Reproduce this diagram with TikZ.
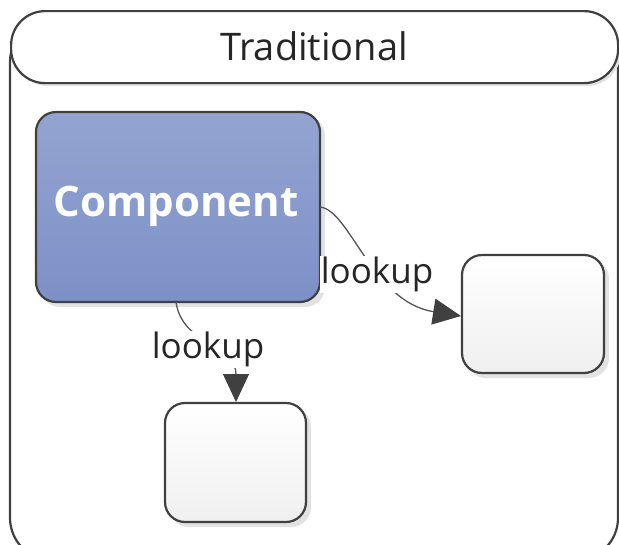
\documentclass[tikz,border=0pt]{standalone}
\usepackage{fontspec}
\setmainfont{Open Sans}
\usetikzlibrary{arrows.meta}
\definecolor{edge}{HTML}{404040}
\definecolor{wire}{HTML}{555555}
\definecolor{compTop}{HTML}{94A4D1}
\definecolor{compBot}{HTML}{7D90C7}
\definecolor{shadowc}{HTML}{E2E2E2}
\tikzset{
  boxshape/.style={draw=edge, line width=2.2pt, rounded corners=20pt},
  blankbox/.style={boxshape, top color=white, bottom color=black!6},
  compbox/.style={boxshape, top color=compTop, bottom color=compBot},
  shadowbox/.style={fill=shadowc, rounded corners=20pt},
  wirestyle/.style={draw=wire, line width=1.3pt, -{Triangle[length=28pt,width=26pt]}, arrows={[color=edge]}},
  lbl/.style={fill=white, inner sep=1pt, text=black!85, font=\fontsize{35}{35}\selectfont}
}
\begin{document}
\begin{tikzpicture}[x=1pt,y=-1pt]
\useasboundingbox (0,0) rectangle (619,544);
% container body, clipped at the page edges
\begin{scope}
\clip (0,0) rectangle (619,544);
\draw[edge, line width=2.2pt, rounded corners=42pt] (10,20) rectangle (618,560);
\end{scope}
% header
\fill[shadowc] (14,16) [rounded corners=34pt] rectangle (621,86);
\node[draw=edge, line width=2.2pt, fill=white, rounded corners=34pt,
      minimum width=607pt, minimum height=72pt, anchor=north west,
      inner sep=0pt] (hdr) at (10,10) {};
\node[font=\fontsize{38}{38}\selectfont, text=black!85] at (314,46) {Traditional};
% shadows
\fill[shadowbox] (40,116) rectangle (325,307);
\fill[shadowbox] (466,259) rectangle (609,378);
\fill[shadowbox] (169,407) rectangle (311,527);
% boxes
\path[compbox] (36,112) rectangle (320,302);
\node[inner sep=0pt, minimum width=284pt, minimum height=190pt, anchor=north west] (comp) at (36,112) {};
\node[text=white, font=\fontsize{42}{42}\selectfont\bfseries] at (176,206) {Component};
\path[blankbox] (462,255) rectangle (604,373);
\node[inner sep=0pt, minimum width=142pt, minimum height=118pt, anchor=north west] (right) at (462,255) {};
\path[blankbox] (165,403) rectangle (306,522);
\node[inner sep=0pt, minimum width=141pt, minimum height=119pt, anchor=north west] (below) at (165,403) {};
% connector endpoints
\coordinate (c1s) at (320,207);
\coordinate (c1e) at (461,316);
\coordinate (c2s) at (176,302);
\coordinate (c2e) at (236,402);
% connectors
\draw[wirestyle] (c1s) .. controls (350,210) and (372,302) .. (c1e);
\draw[wirestyle] (c2s) .. controls (182,345) and (236,345) .. (c2e);
\node[lbl] at (377,274) {lookup};
\node[lbl] at (208,349) {lookup};
\end{tikzpicture}
\end{document}
